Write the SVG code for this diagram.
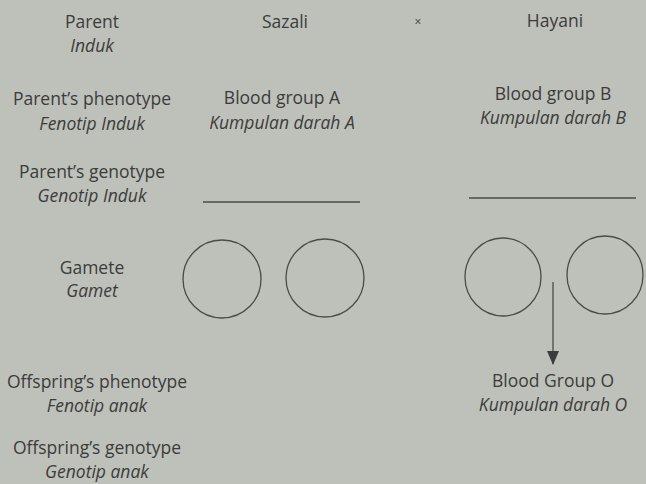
<svg xmlns="http://www.w3.org/2000/svg" width="646" height="484" viewBox="0 0 646 484">
<style>
text{font-family:"Open Sans","Noto Sans",sans-serif;font-size:17.5px;fill:#3b3c3a;text-anchor:middle}
.i{font-style:italic}
.c{fill:none;stroke:#4a4b48;stroke-width:1.3}
.l{stroke:#4a4b48;stroke-width:1.3}
</style>
<defs>
<marker id="ah" markerWidth="14" markerHeight="12" refX="13" refY="6" orient="auto" markerUnits="userSpaceOnUse" viewBox="0 0 14 12">
<path d="M0,0 L14,6 L0,12 Z" fill="#3b3c3a"/>
</marker>
</defs>
<rect width="646" height="484" fill="#bec1ba"/>
<g id="labels">
<text x="92" y="28">Parent</text>
<text x="92" y="52" class="i">Induk</text>
<text x="92" y="105">Parent’s phenotype</text>
<text x="92" y="130" class="i">Fenotip Induk</text>
<text x="92" y="178">Parent’s genotype</text>
<text x="92" y="202" class="i">Genotip Induk</text>
<text x="92" y="274">Gamete</text>
<text x="92" y="297" class="i">Gamet</text>
<text x="97" y="388">Offspring’s phenotype</text>
<text x="97" y="412" class="i">Fenotip anak</text>
<text x="97" y="454">Offspring’s genotype</text>
<text x="97" y="478" class="i">Genotip anak</text>
</g>
<g id="sazali">
<text x="285" y="28">Sazali</text>
<text x="282" y="104">Blood group A</text>
<text x="282" y="129" class="i">Kumpulan darah A</text>
<line class="l" x1="203" y1="202" x2="360" y2="202"/>
<ellipse class="c" cx="222" cy="279" rx="39" ry="39"/>
<ellipse class="c" cx="325" cy="278" rx="39" ry="39"/>
</g>
<g id="cross">
<text x="418" y="26" style="font-size:12px">×</text>
</g>
<g id="hayani">
<text x="555" y="27">Hayani</text>
<text x="553" y="100">Blood group B</text>
<text x="553" y="124" class="i">Kumpulan darah B</text>
<line class="l" x1="469" y1="198" x2="636" y2="198"/>
<ellipse class="c" cx="503" cy="277" rx="38" ry="39"/>
<ellipse class="c" cx="605" cy="275" rx="38" ry="39"/>
</g>
<g id="offspring">
<text x="553" y="387">Blood Group O</text>
<text x="553" y="411" class="i">Kumpulan darah O</text>
</g>
<g id="connectors">
<line class="l" x1="553" y1="282" x2="553" y2="364" marker-end="url(#ah)"/>
</g>
</svg>
